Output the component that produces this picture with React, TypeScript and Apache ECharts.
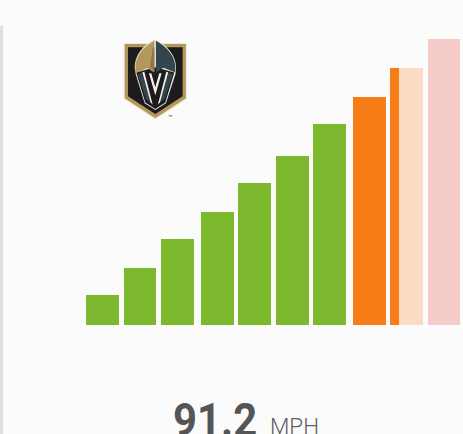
import React, { useEffect, useRef } from "react";
import * as echarts from "echarts";

// Speed bins (mph) and the share of the peak bar for each bin
const greenStarts = [58.2, 62.2, 66.09, 70.3, 74.2, 78.2, 82.09];
const greenEnds = [61.67, 65.57, 69.57, 73.78, 77.67, 81.67, 85.57];
const greenValues = [10.5, 19.9, 30.1, 39.5, 49.65, 59.1, 70.3];
const orangeStarts = [86.3, 90.2];
const orangeEnds = [89.78, 91.15];
const orangeValues = [79.7, 89.9];
const lightStarts = [91.15];
const lightEnds = [93.67];
const lightValues = [89.9];
const pinkStarts = [94.2];
const pinkEnds = [97.57];
const pinkValues = [100];
const speedText = "91.2";
const unitText = "MPH";

const zip = (a: number[], b: number[], c: number[]) => a.map((v, i) => [v, b[i], c[i]]);

const renderBar = (color: string) => (_: any, api: any) => {
  const a = api.coord([api.value(0), api.value(2)]);
  const b = api.coord([api.value(1), 0]);
  const x = Math.round(a[0]);
  const y = Math.round(a[1]);
  return {
    type: "rect",
    shape: { x, y, width: Math.round(b[0]) - x, height: Math.round(b[1]) - y },
    style: { fill: color },
  };
};

const barSeries = (data: number[][], color: string) => ({
  type: "custom",
  data,
  clip: false,
  silent: true,
  encode: { x: [0, 1], y: 2 },
  renderItem: renderBar(color),
});

const S = (d: string) => echarts.graphic.extendPath(d as any, {} as any);
const shapes: Record<string, string> = {
  vgkOuter: "M41,39 H231 V208 L136,269 L41,208 Z",
  vgkGold: "M44,42 H228 V205 L136,265 L44,205 Z",
  vgkBlack: "M54,52 H218 V199 L136,252 L54,199 Z",
  vgkHalo: "M135,28 C100,44 74,76 74,112 L77,132 L104,220 L136,240 L168,220 L197,132 L198,112 C198,76 170,44 135,28 Z",
  vgkFace: "M79,128 L106,218 L136,237 L166,218 L193,128 L136,112 Z",
  vgkDomeL: "M133,32 C100,50 76,80 76,112 L78,129 L112,114 L133,128 Z",
  vgkDomeR: "M138,32 C172,50 196,80 196,112 L195,127 L160,113 L138,128 Z",
  vgkShade: "M128,56 L120,112 L133,124 L133,50 Z",
  vgkCheekL: "M83,133 L96,128 L122,216 L108,208 Z",
  vgkCheekR: "M189,133 L176,128 L150,216 L164,208 Z",
  vgkStripeL: "M97,127 L103,125 L128,224 L122,218 Z",
  vgkStripeR: "M175,127 L169,125 L144,224 L150,218 Z",
  vgkVisor: "M117,130 L124,130 L136,172 L148,130 L155,130 L136,196 Z",
};

export default function App() {
  const ref = useRef<HTMLDivElement>(null);
  useEffect(() => {
    document.body.style.margin = "0";
    document.body.style.background = "#fbfbfb";
    Object.keys(shapes).forEach((k) => echarts.graphic.registerShape(k, S(shapes[k]) as any));
    const chart = echarts.init(ref.current!, undefined, { renderer: "svg" });
    const logo = (type: string, fill: string) => ({ type, x: 0, y: 0, style: { fill } });
    chart.setOption({
      animation: false,
      backgroundColor: "#fbfbfb",
      grid: { left: 84.1, top: 39, width: 376.2, height: 286 },
      xAxis: { type: "value", min: 58, max: 97.6, show: false },
      yAxis: { type: "value", min: 0, max: 100, show: false },
      series: [
        barSeries(zip(greenStarts, greenEnds, greenValues), "#7db92f"),
        barSeries(zip(orangeStarts, orangeEnds, orangeValues), "#f67d18"),
        barSeries(zip(lightStarts, lightEnds, lightValues), "#f9dcc3"),
        barSeries(zip(pinkStarts, pinkEnds, pinkValues), "#f6cccb"),
      ],
      graphic: [
        { type: "rect", shape: { x: 0, y: 26, width: 3, height: 408 }, style: { fill: "#e0e0e0" } },
        {
          type: "group",
          x: 110,
          y: 30,
          scaleX: 1 / 3,
          scaleY: 1 / 3,
          children: [
            logo("vgkOuter", "#f0ebe0"),
            logo("vgkGold", "#b4975a"),
            logo("vgkBlack", "#1d1b1c"),
            logo("vgkHalo", "#e6e1d6"),
            logo("vgkFace", "#1d1b1c"),
            logo("vgkDomeL", "#b4975a"),
            logo("vgkDomeR", "#33454e"),
            logo("vgkShade", "#8f7644"),
            logo("vgkCheekL", "#33454e"),
            logo("vgkCheekR", "#33454e"),
            logo("vgkStripeL", "#f4f1ea"),
            logo("vgkStripeR", "#f4f1ea"),
            logo("vgkVisor", "#f4f1ea"),
          ],
        },
        {
          type: "text",
          x: 168,
          y: 114,
          style: { text: "™", font: "7px Roboto", fill: "#333" },
        },
        {
          type: "text",
          x: 173,
          y: 443.5,
          scaleX: 0.91,
          style: { text: speedText, font: "bold 46px Roboto", fill: "#555555", verticalAlign: "bottom" },
        },
        {
          type: "text",
          x: 270,
          y: 436.5,
          style: { text: unitText, font: "300 22.4px Roboto", fill: "#5f5f5f", verticalAlign: "bottom" },
        },
      ],
    });
    return () => chart.dispose();
  }, []);
  return <div ref={ref} style={{ width: 463, height: 434 }} />;
}
